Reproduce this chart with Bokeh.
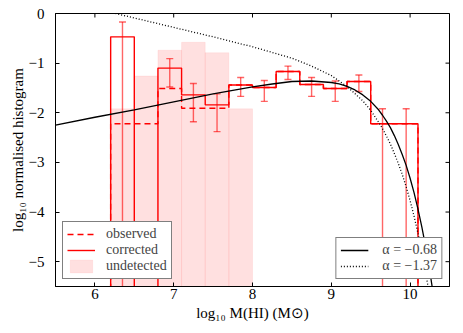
import math
from bokeh.plotting import figure
from bokeh.models import Legend, LegendItem, FixedTicker
from bokeh.embed import file_html
from bokeh.resources import INLINE

# ---------------- data ----------------
NEG_INF = -10.0  # stands for log10(0): empty bins / open-ended error bars
X_MIN, X_MAX = 5.5, 10.5
Y_MIN, Y_MAX = -5.5, 0.0

bin_edges = [6.2, 6.5, 6.8, 7.1, 7.4, 7.7, 8.0, 8.3, 8.6, 8.9, 9.2, 9.5, 9.8, 10.1]
corrected = [-0.47, NEG_INF, -1.10, -1.64, -1.84, -1.44, -1.49, -1.17, -1.43, -1.51, -1.37, -2.22, -2.22]
observed = [-2.22, -2.22, -1.51, -1.91, -1.91, -1.44, -1.49, -1.17, -1.43, -1.51, -1.37, -2.22, -2.22]

err_x = [6.35, 6.95, 7.25, 7.55, 7.85, 8.15, 8.45, 8.75, 9.05, 9.35, 9.65, 9.95]
err_hi = [-0.17, -0.91, -1.41, -1.62, -1.29, -1.35, -1.06, -1.29, -1.36, -1.24, -1.92, -1.92]
err_lo = [NEG_INF, -1.48, -2.18, -2.38, -1.67, -1.77, -1.33, -1.67, -1.77, -1.57, NEG_INF, NEG_INF]

undet_edges = [6.2, 6.5, 6.8, 7.1, 7.4, 7.7, 8.0]
undetected = [-1.92, -1.26, -0.74, -0.58, -0.79, -1.92]

fit1_x = [5.5, 6.0, 6.5, 7.0, 7.5, 8.0, 8.25, 8.5, 8.75, 9.0, 9.1, 9.2, 9.3, 9.4, 9.5,
          9.6, 9.65, 9.7, 9.75, 9.8, 9.85, 9.9, 9.95, 10.0, 10.05, 10.1, 10.15, 10.2, 10.25, 10.3]
fit1_y = [-2.25, -2.09, -1.94, -1.78, -1.62, -1.48, -1.42, -1.37, -1.36, -1.39, -1.42, -1.47, -1.54, -1.64, -1.77,
          -1.94, -2.05, -2.17, -2.30, -2.46, -2.64, -2.84, -3.06, -3.32, -3.61, -3.94, -4.31, -4.72, -5.19, -5.72]

fit2_x = [6.0, 6.5, 7.0, 7.5, 8.0, 8.5, 8.75, 9.0, 9.2, 9.4, 9.5, 9.6, 9.65, 9.7, 9.75,
          9.8, 9.85, 9.9, 9.95, 10.0, 10.05, 10.1, 10.15, 10.2, 10.25]
fit2_y = [0.10, -0.09, -0.28, -0.47, -0.67, -0.90, -1.06, -1.25, -1.47, -1.76, -1.95, -2.19, -2.32, -2.47, -2.63,
          -2.82, -3.02, -3.24, -3.49, -3.77, -4.08, -4.43, -4.81, -5.24, -5.72]

x_ticks = [6, 7, 8, 9, 10]
x_tick_labels = ["6", "7", "8", "9", "10"]
y_ticks = [0, -1, -2, -3, -4, -5]
y_tick_labels = ["0", "\u22121", "\u22122", "\u22123", "\u22124", "\u22125"]

fit1_label = "\u03b1 = \u22120.68"
fit2_label = "\u03b1 = \u22121.37"

# ---------------- helpers ----------------
def step_path(edges, vals):
    xs, ys = [edges[0]], [NEG_INF]
    for i, v in enumerate(vals):
        xs += [edges[i], edges[i + 1]]
        ys += [v, v]
    xs.append(edges[-1])
    ys.append(NEG_INF)
    return xs, ys

FONT = "Liberation Serif"

p = figure(width=463, height=333, x_range=(X_MIN, X_MAX), y_range=(Y_MIN, Y_MAX),
           output_backend="svg", toolbar_location=None,
           min_border_left=55, min_border_right=14, min_border_top=13, min_border_bottom=47)
p.xgrid.visible = False
p.ygrid.visible = False
p.outline_line_color = "black"
p.outline_line_width = 1
p.background_fill_color = "white"
p.border_fill_color = "white"

# undetected bars
undet = p.quad(left=undet_edges[:-1], right=undet_edges[1:], top=undetected,
               bottom=[NEG_INF] * len(undetected),
               fill_color="#ff0000", fill_alpha=0.12, line_color="#ff0000", line_alpha=0.06)

# observed (dashed) and corrected (solid) step histograms
ox, oy = step_path(bin_edges, observed)
obs = p.line(ox, oy, line_color="red", line_width=1.4, line_dash="6 4")
cx, cy = step_path(bin_edges, corrected)
cor = p.line(cx, cy, line_color="red", line_width=1.4)

# error bars
p.segment(x0=err_x, y0=err_lo, x1=err_x, y1=err_hi, line_color="red", line_alpha=0.6, line_width=1.4)
p.dash(x=err_x, y=err_hi, size=7, line_color="red", line_alpha=0.6, line_width=1.4)
p.dash(x=err_x, y=err_lo, size=7, line_color="red", line_alpha=0.6, line_width=1.4)

# fits
f1 = p.line(fit1_x, fit1_y, line_color="black", line_width=1.3)
f2 = p.line(fit2_x, fit2_y, line_color="black", line_width=1.3, line_dash="1 2")

# inward tick marks on the top and right frame edges (clipped to the frame)
p.dash(x=x_ticks, y=[Y_MAX] * len(x_ticks), angle=math.pi / 2, size=8, line_color="black", line_width=1)
p.dash(x=[X_MAX] * len(y_ticks), y=y_ticks, angle=0, size=8, line_color="black", line_width=1)

# axes styling
for ax in [p.xaxis[0], p.yaxis[0]]:
    ax.axis_line_color = "black"
    ax.major_tick_in = 4
    ax.major_tick_out = 0
    ax.minor_tick_line_color = None
    ax.major_label_text_font = FONT
    ax.major_label_text_font_size = "15px"
    ax.major_label_text_color = "black"
    ax.axis_label_text_font = FONT
    ax.axis_label_text_font_size = "15px"
    ax.axis_label_text_font_style = "normal"
    ax.axis_label_text_color = "black"

p.xaxis.ticker = FixedTicker(ticks=x_ticks)
p.yaxis.ticker = FixedTicker(ticks=y_ticks)
p.xaxis.major_label_overrides = {t: l for t, l in zip(x_ticks, x_tick_labels)}
p.yaxis.major_label_overrides = {t: l for t, l in zip(y_ticks, y_tick_labels)}
p.xaxis.axis_label = "log\u2081\u2080 M(HI) (M\u2299)"
p.yaxis.axis_label = "log\u2081\u2080 normalised histogram"
p.xaxis.major_label_standoff = 2
p.yaxis.major_label_standoff = 11
p.xaxis.axis_label_standoff = 3
p.yaxis.axis_label_standoff = 0

leg_common = dict(border_line_color="black", border_line_width=1, background_fill_alpha=1,
                  label_text_font=FONT, label_text_font_size="14px", margin=7,
                  spacing=0, label_height=16, glyph_height=16, padding=4)
leg1 = Legend(items=[LegendItem(label="observed", renderers=[obs]),
                     LegendItem(label="corrected", renderers=[cor]),
                     LegendItem(label="undetected", renderers=[undet])],
              location="bottom_left", glyph_width=28, label_standoff=11, **leg_common)
leg2 = Legend(items=[LegendItem(label=fit1_label, renderers=[f1]),
                     LegendItem(label=fit2_label, renderers=[f2])],
              location="bottom_right", glyph_width=28, label_standoff=14, **leg_common)
p.add_layout(leg1)
p.add_layout(leg2)

open("out.html", "w").write(file_html(p, INLINE))
